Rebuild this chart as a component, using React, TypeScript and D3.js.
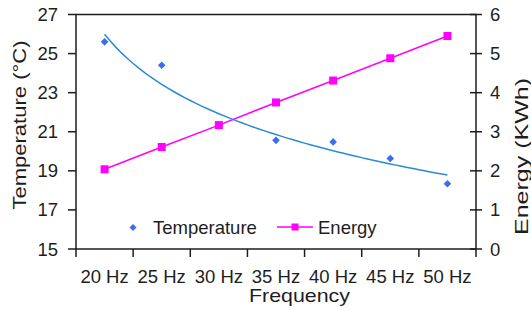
import { scaleBand, scaleLinear, line as d3line, range, mean, sum, curveLinear } from "d3";

const categories = ["20 Hz", "25 Hz", "30 Hz", "35 Hz", "40 Hz", "45 Hz", "50 Hz"];
const temperature = [25.6, 24.4, 21.35, 20.56, 20.48, 19.63, 18.34];
const energy = [2.04, 2.61, 3.17, 3.75, 4.31, 4.88, 5.45];
const tempTicks = [15, 17, 19, 21, 23, 25, 27];
const energyTicks = [0, 1, 2, 3, 4, 5, 6];

const W = 531;
const H = 311;
const font = "'Liberation Sans', Arial, sans-serif";
const ink = "#1e1e1e";

export default function App() {
  const left = 76;
  const right = 476;
  const top = 14.5;
  const bottom = 249;

  const x = scaleBand<string>().domain(categories).range([left, right]);
  const cx = (i: number) => (x(categories[i]) ?? 0) + x.bandwidth() / 2;
  const yT = scaleLinear().domain([15, 27]).range([bottom, top]);
  const yE = scaleLinear().domain([0, 6]).range([bottom, top]);

  // logarithmic trendline fitted to the temperature points (x = 1..n)
  const lx = temperature.map((_, i) => Math.log(i + 1));
  const mx = mean(lx) ?? 0;
  const my = mean(temperature) ?? 0;
  const b =
    sum(lx.map((v, i) => (v - mx) * (temperature[i] - my))) /
    sum(lx.map((v) => (v - mx) * (v - mx)));
  const a = my - b * mx;
  const xIdx = scaleLinear().domain([1, categories.length]).range([cx(0), cx(categories.length - 1)]);
  const trend = range(1, categories.length + 0.001, 0.1).map((t) => [xIdx(t), yT(a + b * Math.log(t))] as [number, number]);
  const trendPath = d3line().curve(curveLinear)(trend) ?? "";

  const energyPath =
    d3line<number>()
      .x((_, i) => cx(i))
      .y((d) => yE(d))(energy) ?? "";

  const diamond = (px: number, py: number, r: number) =>
    `M${px},${py - r}L${px + r},${py}L${px},${py + r}L${px - r},${py}Z`;

  const xTicks = [...categories.map((c) => x(c) ?? 0), right];

  return (
    <svg width={W} height={H} style={{ position: "absolute", left: 0, top: 0, background: "#fff" }} fontFamily={font}>
      {/* Frame */}
      <rect x={left} y={top} width={right - left} height={bottom - top} fill="none" stroke={ink} strokeWidth={1.5} />

      {/* Left axis ticks and labels */}
      {tempTicks.map((t) => (
        <g key={"l" + t}>
          <line x1={left - 8} x2={left} y1={yT(t)} y2={yT(t)} stroke={ink} strokeWidth={1.5} />
          <text x={58} y={yT(t) + 6.5} textAnchor="end" fontSize={18.5} fill={ink}>
            {t}
          </text>
        </g>
      ))}

      {/* Right axis ticks and labels */}
      {energyTicks.map((t) => (
        <g key={"r" + t}>
          <line x1={right - 6} x2={right + 6} y1={yE(t)} y2={yE(t)} stroke={ink} strokeWidth={1.5} />
          <text x={490} y={yE(t) + 6.5} textAnchor="start" fontSize={18.5} fill={ink}>
            {t}
          </text>
        </g>
      ))}

      {/* X axis ticks and labels */}
      {xTicks.map((tx, i) => (
        <line key={"x" + i} x1={tx} x2={tx} y1={bottom} y2={bottom + 8} stroke={ink} strokeWidth={1.5} />
      ))}
      {categories.map((c, i) => (
        <text key={c} x={cx(i)} y={283} textAnchor="middle" fontSize={18.5} fill={ink}>
          {c}
        </text>
      ))}

      {/* Axis titles */}
      <text x={299.5} y={302} textAnchor="middle" fontSize={19} fill={ink} textLength={101} lengthAdjust="spacingAndGlyphs">
        Frequency
      </text>
      <text
        transform="translate(26,125) rotate(-90)"
        textAnchor="middle"
        fontSize={19}
        fill={ink}
        textLength={169}
        lengthAdjust="spacingAndGlyphs"
      >
        Temperature (°C)
      </text>
      <text
        transform="translate(528,156.5) rotate(-90)"
        textAnchor="middle"
        fontSize={19}
        fill={ink}
        textLength={157}
        lengthAdjust="spacingAndGlyphs"
      >
        Energy (KWh)
      </text>

      {/* Temperature points (drawn under the energy series) */}
      {temperature.map((v, i) => (
        <path key={"t" + i} d={diamond(cx(i), yT(v), 3.8)} fill="#3a6ef2" />
      ))}

      {/* Energy series */}
      <path d={energyPath} fill="none" stroke="#ff00ff" strokeWidth={1.5} />
      {energy.map((v, i) => (
        <rect key={"e" + i} x={cx(i) - 4} y={yE(v) - 4} width={8} height={8} fill="#ff00ff" />
      ))}

      {/* Temperature trendline */}
      <path d={trendPath} fill="none" stroke="#2b8ad3" strokeWidth={1.5} />

      {/* Legend */}
      <path d={diamond(133, 227.5, 3.5)} fill="#3a6ef2" />
      <text x={153} y={234} fontSize={18.5} fill={ink}>
        Temperature
      </text>
      <line x1={277} x2={313} y1={227} y2={227} stroke="#ff00ff" strokeWidth={1.5} />
      <rect x={295 - 3.5} y={227 - 3.5} width={7} height={7} fill="#ff00ff" />
      <text x={318} y={234} fontSize={18.5} fill={ink}>
        Energy
      </text>
    </svg>
  );
}
